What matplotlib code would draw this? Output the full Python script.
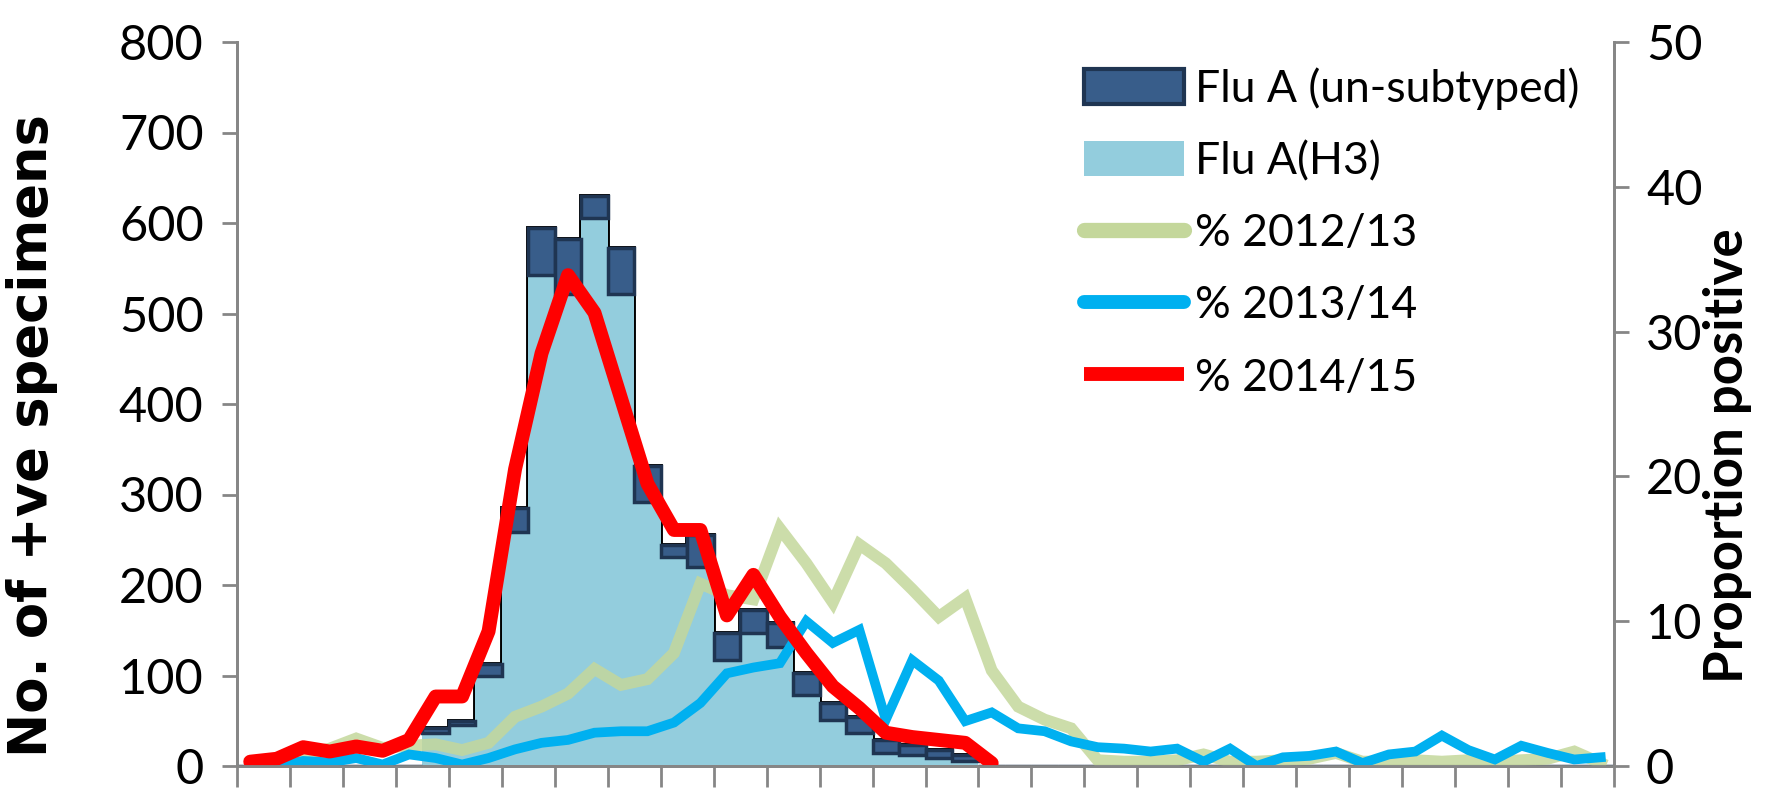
import numpy as np
import matplotlib
matplotlib.use("Agg")
import matplotlib.pyplot as plt
from matplotlib.patches import Patch
from matplotlib.lines import Line2D

# weekly data, 52 weeks
weeks = np.arange(52)

flu_h3 = [0, 0, 0, 0, 0, 0, 0, 36, 45, 100, 259, 542, 522, 606, 522, 292, 231, 220,
          117, 147, 132, 78, 51, 36, 14, 12, 9, 5] + [0] * 24
flu_unsub = [0, 0, 0, 0, 0, 0, 0, 6, 5, 13, 26, 52, 60, 24, 50, 39, 13, 35,
             30, 25, 26, 25, 19, 18, 15, 11, 9, 7] + [0] * 24

pct_1213 = [0.2, 0.4, 0.8, 1.2, 1.9, 1.25, 1.4, 1.5, 1.1, 1.6,
            3.4, 4.1, 5.0, 6.7, 5.6, 6.0, 7.8, 12.6, 11.8, 11.5,
            16.4, 14.0, 11.3, 15.3, 14.0, 12.2, 10.3, 11.6, 6.6, 4.1,
            3.2, 2.6, 0.4, 0.3, 0.3, 0.4, 0.8, 0.3, 0.3, 0.4,
            0.5, 0.9, 0.3, 0.3, 0.4, 0.3, 0.4, 0.3, 0.4, 0.5,
            1.0, 0.2]
pct_1314 = [0.0, 0.0, 0.35, 0.25, 0.55, 0.1, 0.8, 0.55, 0.1, 0.55,
            1.15, 1.6, 1.8, 2.3, 2.4, 2.4, 3.0, 4.35, 6.4, 6.8,
            7.1, 10.0, 8.5, 9.4, 3.2, 7.3, 5.9, 3.1, 3.7, 2.6,
            2.4, 1.7, 1.3, 1.2, 1.0, 1.2, 0.3, 1.2, 0.0, 0.6,
            0.7, 1.0, 0.2, 0.8, 1.0, 2.1, 1.1, 0.45, 1.4, 0.9,
            0.45, 0.6]
pct_1415 = [0.3, 0.5, 1.3, 1.0, 1.35, 1.05, 1.8, 4.8, 4.8, 9.3,
            20.5, 28.5, 33.9, 31.3, 25.4, 19.5, 16.3, 16.3, 10.4, 13.2,
            10.3, 7.8, 5.5, 4.0, 2.3, 2.0, 1.8, 1.6, 0.2]

left_ticks = [0, 100, 200, 300, 400, 500, 600, 700, 800]
right_ticks = [0, 10, 20, 30, 40, 50]

c_h3 = '#93CDDD'
c_unsub = '#385D8A'
c_unsub_edge = '#1F3552'
c_green = '#C4D79B'
c_blue = '#00B0F0'
c_red = '#FF0000'
c_axis = '#868686'

W, H = 1787, 793
fig = plt.figure(figsize=(W / 100, H / 100), dpi=100)
x0, x1, y0, y1 = 237, 1614, 42, 766
ax = fig.add_axes([x0 / W, 1 - y1 / H, (x1 - x0) / W, (y1 - y0) / H])
ax2 = ax.twinx()

h3 = np.array(flu_h3)
un = np.array(flu_unsub)
total = h3 + un
edges = np.arange(-0.5, 52.5, 1)

# dark outline around the bar block (only where there are bars)
nz = np.nonzero(total)[0]
first, last = nz[0], nz[-1] + 1
ax.stairs(total[first:last], edges[first:last + 1], color='black', lw=2.8,
          baseline=None, zorder=1)
ax.bar(weeks, h3, width=1.0, color=c_h3, lw=0, zorder=2)
ax.bar(weeks, un, bottom=h3, width=1.0, color=c_unsub, edgecolor=c_unsub_edge,
       lw=2.5, zorder=3)

ax2.plot(weeks, pct_1213, color=c_green, lw=8.5, alpha=0.85, solid_joinstyle='miter')
ax2.plot(weeks, pct_1314, color=c_blue, lw=7, solid_joinstyle='miter')
ax2.plot(np.arange(len(pct_1415)), pct_1415, color=c_red, lw=10,
         solid_joinstyle='round', solid_capstyle='round')

ax.set_xlim(-0.5, 51.5)
ax.set_ylim(0, 800)
ax2.set_ylim(0, 50)
ax.set_yticks(left_ticks)
ax2.set_yticks(right_ticks)
ax.set_xticks(np.arange(-0.5, 52, 2))
ax.set_xticklabels([])

for a in (ax, ax2):
    for s in a.spines.values():
        s.set_color(c_axis)
        s.set_linewidth(2)
    a.spines['top'].set_visible(False)
    a.set_facecolor('none')
ax.tick_params(axis='y', length=11, width=2, color=c_axis, pad=13,
               labelsize=35, labelfontfamily='Lato')
ax.tick_params(axis='x', length=15, width=2, color=c_axis)
ax2.tick_params(axis='y', length=11, width=2, color=c_axis, pad=12,
                labelsize=35, labelfontfamily='Lato')

fig.text(32 / W, 1 - 436 / H, 'No. of +ve specimens', rotation=90, ha='center',
         va='center', fontsize=38, fontweight='bold', family='DejaVu Sans')
fig.text(1727 / W, 1 - 456 / H, 'Proportion positive', rotation=90, ha='center',
         va='center', fontsize=38, fontweight='bold', family='Lato')

handles = [
    Patch(facecolor=c_unsub, edgecolor=c_unsub_edge, lw=3),
    Patch(facecolor=c_h3, lw=0),
    Line2D([], [], color=c_green, lw=11, solid_capstyle='round'),
    Line2D([], [], color=c_blue, lw=10, solid_capstyle='round'),
    Line2D([], [], color=c_red, lw=10, solid_capstyle='butt'),
]
labels = ['Flu A (un-subtyped)', 'Flu A(H3)', '% 2012/13', '% 2013/14', '% 2014/15']
ax2.legend(handles, labels, loc='upper left', bbox_to_anchor=(0.602, 0.99),
           frameon=False, prop={'family': 'Lato', 'size': 32},
           handlelength=2.25, handleheight=0.85, handletextpad=0.25,
           labelspacing=0.7, borderaxespad=0.0)

fig.savefig('out.png', dpi=100)
